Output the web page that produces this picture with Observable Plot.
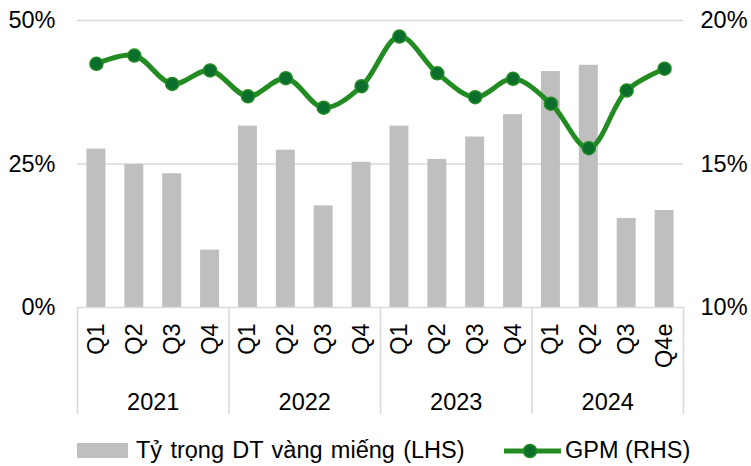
<!DOCTYPE html>
<html>
<head>
<meta charset="utf-8">
<script src="https://cdn.jsdelivr.net/npm/d3@7"></script>
<script src="https://cdn.jsdelivr.net/npm/@observablehq/plot@0.6"></script>
<style>
  html, body { margin: 0; padding: 0; background: #fff; }
  body { width: 751px; height: 466px; overflow: hidden; font-family: "Liberation Sans", Arial, sans-serif; }
  #legend { position: relative; height: 41px; font-size: 23.5px; color: #000; }
  .lg { position: absolute; top: 5px; height: 41px; display: flex; align-items: center; white-space: nowrap; }
</style>
</head>
<body>
<div id="chart"></div>
<div id="legend">
  <div class="lg" style="left:77px; word-spacing:1.8px"><span style="display:inline-block;width:51px;height:15px;background:#bfbfbf;margin-right:8px"></span>Tỷ trọng DT vàng miếng (LHS)</div>
  <div class="lg" style="left:504px"><svg width="57" height="16" style="margin-right:4px"><line x1="0" y1="8" x2="57" y2="8" stroke="#228b22" stroke-width="5" stroke-linecap="round"/><circle cx="26" cy="8" r="6.5" fill="#0b6e2c" stroke="#228b22" stroke-width="1.5"/></svg>GPM (RHS)</div>
</div>
<script>
const quarters = ["Q1","Q2","Q3","Q4","Q1","Q2","Q3","Q4","Q1","Q2","Q3","Q4","Q1","Q2","Q3","Q4e"];
const years = ["2021","2022","2023","2024"];
const share = [27.6,24.9,23.3,10.0,31.6,27.4,17.7,25.3,31.6,25.8,29.7,33.6,41.1,42.2,15.5,16.9];
const gpm = [18.49,18.78,17.79,18.26,17.36,17.99,16.96,17.71,19.44,18.16,17.33,17.97,17.10,15.55,17.56,18.32];
const leftTicks = [0,25,50];
const rightTicks = [10,15,20];

// map right axis (10%–20%) onto left scale (0%–50%)
const toLeft = v => (v - 10) * 5;
const fromLeft = v => v / 5 + 10;

const data = quarters.map((q, i) => ({i, q, share: share[i], gpm: toLeft(gpm[i])}));
const yearData = years.map((y, k) => ({y, mid: k * 4 + 1.5}));
const bounds = [...years.map((_, k) => k * 4 - 0.5), years.length * 4 - 0.5];

const chart = Plot.plot({
  width: 751,
  height: 425,
  marginLeft: 77,
  marginRight: 68,
  marginTop: 20,
  marginBottom: 118,
  style: {fontFamily: "'Liberation Sans', Arial, sans-serif", fontSize: "23.5px", color: "#000", background: "#fff"},
  x: {domain: [-0.5, quarters.length - 0.5], axis: null},
  y: {domain: [0, 50], axis: null},
  marks: [
    Plot.gridY(leftTicks.filter(d => d > 0), {stroke: "#d9d9d9", strokeOpacity: 1, strokeWidth: 1.5}),
    Plot.rectY(data, {x1: d => d.i - 0.25, x2: d => d.i + 0.25, y: "share", fill: "#bfbfbf"}),
    Plot.ruleY([0], {stroke: "#d9d9d9", strokeWidth: 1.5}),
    Plot.axisX({ticks: bounds, tickSize: 107, stroke: "#d9d9d9", strokeWidth: 1.5, strokeOpacity: 1, tickFormat: () => "", label: null}),
    Plot.text(data, {x: "i", text: "q", frameAnchor: "bottom", dy: 16, rotate: -90, textAnchor: "end", lineAnchor: "middle", fontSize: 23.5, fill: "#000"}),
    Plot.text(yearData, {x: "mid", text: "y", frameAnchor: "bottom", dy: 95, lineAnchor: "middle", fontSize: 23.5, fill: "#000"}),
    Plot.axisY({anchor: "left", ticks: leftTicks, tickFormat: d => d + "%", tickSize: 0, tickPadding: 22, fontSize: 23.5, label: null}),
    Plot.axisY({anchor: "right", ticks: rightTicks.map(toLeft), tickFormat: d => fromLeft(d) + "%", tickSize: 0, tickPadding: 17, fontSize: 23.5, label: null}),
    Plot.line(data, {x: "i", y: "gpm", stroke: "#228b22", strokeWidth: 5, curve: "catmull-rom"}),
    Plot.dot(data, {x: "i", y: "gpm", r: 6.5, fill: "#0b6e2c", stroke: "#228b22", strokeWidth: 1.5})
  ]
});
document.getElementById("chart").appendChild(chart);
</script>
</body>
</html>
